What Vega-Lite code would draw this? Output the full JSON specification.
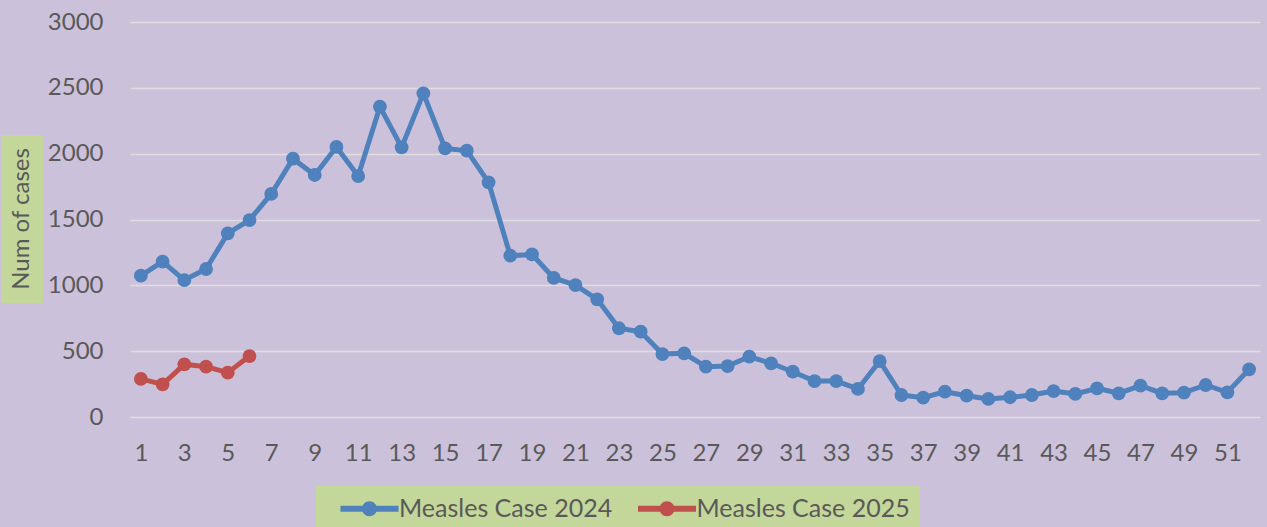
{
  "$schema": "https://vega.github.io/schema/vega-lite/v6.json",
  "width": 1130,
  "height": 395,
  "autosize": {"type": "none"},
  "padding": {"left": 130, "top": 22, "right": 7, "bottom": 110},
  "background": "#ccc1da",
  "config": {
    "view": {"stroke": null},
    "font": "Lato",
    "axis": {"labelFont": "Lato", "labelColor": "#595959", "labelFontSize": 24}
  },
  "data": {
    "values": [
      {"week": 1, "series": "Measles Case 2024", "cases": 1073},
      {"week": 2, "series": "Measles Case 2024", "cases": 1180},
      {"week": 3, "series": "Measles Case 2024", "cases": 1040},
      {"week": 4, "series": "Measles Case 2024", "cases": 1124},
      {"week": 5, "series": "Measles Case 2024", "cases": 1395},
      {"week": 6, "series": "Measles Case 2024", "cases": 1496},
      {"week": 7, "series": "Measles Case 2024", "cases": 1694},
      {"week": 8, "series": "Measles Case 2024", "cases": 1962},
      {"week": 9, "series": "Measles Case 2024", "cases": 1838},
      {"week": 10, "series": "Measles Case 2024", "cases": 2051},
      {"week": 11, "series": "Measles Case 2024", "cases": 1830},
      {"week": 12, "series": "Measles Case 2024", "cases": 2357},
      {"week": 13, "series": "Measles Case 2024", "cases": 2048},
      {"week": 14, "series": "Measles Case 2024", "cases": 2458},
      {"week": 15, "series": "Measles Case 2024", "cases": 2040},
      {"week": 16, "series": "Measles Case 2024", "cases": 2023},
      {"week": 17, "series": "Measles Case 2024", "cases": 1782},
      {"week": 18, "series": "Measles Case 2024", "cases": 1225},
      {"week": 19, "series": "Measles Case 2024", "cases": 1235},
      {"week": 20, "series": "Measles Case 2024", "cases": 1056},
      {"week": 21, "series": "Measles Case 2024", "cases": 1002},
      {"week": 22, "series": "Measles Case 2024", "cases": 894},
      {"week": 23, "series": "Measles Case 2024", "cases": 674},
      {"week": 24, "series": "Measles Case 2024", "cases": 648},
      {"week": 25, "series": "Measles Case 2024", "cases": 478},
      {"week": 26, "series": "Measles Case 2024", "cases": 484},
      {"week": 27, "series": "Measles Case 2024", "cases": 382},
      {"week": 28, "series": "Measles Case 2024", "cases": 387},
      {"week": 29, "series": "Measles Case 2024", "cases": 458},
      {"week": 30, "series": "Measles Case 2024", "cases": 408},
      {"week": 31, "series": "Measles Case 2024", "cases": 344},
      {"week": 32, "series": "Measles Case 2024", "cases": 273},
      {"week": 33, "series": "Measles Case 2024", "cases": 273},
      {"week": 34, "series": "Measles Case 2024", "cases": 213},
      {"week": 35, "series": "Measles Case 2024", "cases": 425},
      {"week": 36, "series": "Measles Case 2024", "cases": 167},
      {"week": 37, "series": "Measles Case 2024", "cases": 147},
      {"week": 38, "series": "Measles Case 2024", "cases": 192},
      {"week": 39, "series": "Measles Case 2024", "cases": 162},
      {"week": 40, "series": "Measles Case 2024", "cases": 137},
      {"week": 41, "series": "Measles Case 2024", "cases": 150},
      {"week": 42, "series": "Measles Case 2024", "cases": 167},
      {"week": 43, "series": "Measles Case 2024", "cases": 197},
      {"week": 44, "series": "Measles Case 2024", "cases": 175},
      {"week": 45, "series": "Measles Case 2024", "cases": 218},
      {"week": 46, "series": "Measles Case 2024", "cases": 180},
      {"week": 47, "series": "Measles Case 2024", "cases": 238},
      {"week": 48, "series": "Measles Case 2024", "cases": 180},
      {"week": 49, "series": "Measles Case 2024", "cases": 185},
      {"week": 50, "series": "Measles Case 2024", "cases": 243},
      {"week": 51, "series": "Measles Case 2024", "cases": 187},
      {"week": 52, "series": "Measles Case 2024", "cases": 362},
      {"week": 1, "series": "Measles Case 2025", "cases": 289},
      {"week": 2, "series": "Measles Case 2025", "cases": 248},
      {"week": 3, "series": "Measles Case 2025", "cases": 400},
      {"week": 4, "series": "Measles Case 2025", "cases": 382},
      {"week": 5, "series": "Measles Case 2025", "cases": 337},
      {"week": 6, "series": "Measles Case 2025", "cases": 463}
    ]
  },
  "layer": [
    {
      "mark": {"type": "point", "filled": true, "size": 190, "opacity": 1},
      "encoding": {
        "x": {
          "field": "week", "type": "quantitative", "title": null,
          "scale": {"domain": [0.5, 52.5], "nice": false, "zero": false},
          "axis": {
            "values": [1,3,5,7,9,11,13,15,17,19,21,23,25,27,29,31,33,35,37,39,41,43,45,47,49,51],
            "grid": false, "ticks": false, "domain": false,
            "labelPadding": 24, "labelOverlap": false, "labelFlush": false, "title": null
          }
        },
        "y": {
          "field": "cases", "type": "quantitative", "title": null,
          "scale": {"domain": [0, 3000], "nice": false, "zero": true},
          "axis": {
            "values": [0, 500, 1000, 1500, 2000, 2500, 3000], "format": "d",
            "grid": true, "gridColor": "#dedede", "gridWidth": 1.3,
            "ticks": false, "domain": false, "labelPadding": 27, "title": null
          }
        },
        "color": {
          "field": "series", "type": "nominal",
          "scale": {"domain": ["Measles Case 2024", "Measles Case 2025"], "range": ["#4f81bd", "#c0504d"]},
          "legend": {
            "orient": "none", "legendX": 186, "legendY": 464, "direction": "horizontal",
            "title": null, "fillColor": "#c4d79b", "padding": 10,
            "symbolType": "M-3.87,-0.4L3.87,-0.4L3.87,0.4L-3.87,0.4Z M-1,0A1,1,0,1,1,1,0A1,1,0,1,1,-1,0Z",
            "symbolSize": 225, "symbolOffset": 31, "labelOffset": 17, "labelLimit": 0,
            "labelFontSize": 25, "labelColor": "#595959", "labelFont": "Lato",
            "columnPadding": 10.5, "symbolOpacity": 1, "symbolStrokeWidth": 0
          }
        }
      }
    },
    {
      "mark": {"type": "line", "strokeWidth": 5, "strokeCap": "round", "strokeJoin": "round"},
      "encoding": {
        "x": {"field": "week", "type": "quantitative", "title": null, "scale": {"domain": [0.5, 52.5], "nice": false, "zero": false}},
        "y": {"field": "cases", "type": "quantitative", "title": null, "scale": {"domain": [0, 3000], "nice": false, "zero": true}},
        "color": {"field": "series", "type": "nominal"}
      }
    },
    {
      "data": {"values": [{"label": "Num of cases"}]},
      "mark": {"type": "rect", "color": "#c4d79b", "opacity": 1},
      "encoding": {
        "x": {"datum": -5.436, "type": "quantitative", "title": null, "scale": {"domain": [0.5, 52.5], "nice": false, "zero": false}},
        "x2": {"datum": -3.5035},
        "y": {"datum": 866, "type": "quantitative", "title": null, "scale": {"domain": [0, 3000], "nice": false, "zero": true}},
        "y2": {"datum": 2142}
      }
    },
    {
      "data": {"values": [{"label": "Num of cases"}]},
      "mark": {"type": "text", "angle": 270, "fontSize": 24, "font": "Lato", "color": "#595959", "align": "center", "baseline": "middle"},
      "encoding": {
        "x": {"datum": -4.47, "type": "quantitative", "title": null, "scale": {"domain": [0.5, 52.5], "nice": false, "zero": false}},
        "y": {"datum": 1504, "type": "quantitative", "title": null, "scale": {"domain": [0, 3000], "nice": false, "zero": true}},
        "text": {"field": "label"}
      }
    }
  ]
}
